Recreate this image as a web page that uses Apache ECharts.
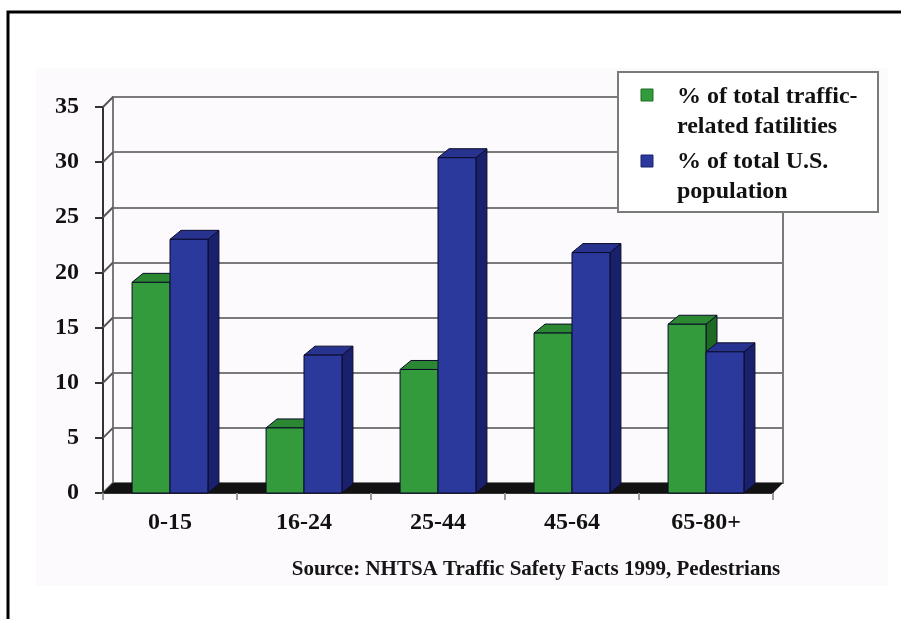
<!DOCTYPE html>
<html>
<head>
<meta charset="utf-8">
<title>Pedestrian fatalities vs population by age</title>
<script src="https://cdn.jsdelivr.net/npm/echarts@6/dist/echarts.min.js"></script>
<style>
  html, body { margin: 0; padding: 0; background: #ffffff; }
  #chart { width: 901px; height: 619px; }
</style>
</head>
<body>
<div id="chart"></div>
<script>
// Age groups on the category axis
const categories = ['0-15', '16-24', '25-44', '45-64', '65-80+'];
// Share of total traffic-related pedestrian fatalities (%)
const fatalityShare = [19.1, 5.9, 11.2, 14.5, 15.3];
// Share of total U.S. population (%)
const populationShare = [23.0, 12.5, 30.4, 21.8, 12.8];
// Value axis range and step
const yMin = 0, yMax = 35, yStep = 5;
// Legend entries (one line of text per row)
const legendLines = [
  ['% of total traffic-', 'related fatilities'],
  ['% of total U.S.', 'population']
];
const sourceNote = 'Source: NHTSA Traffic Safety Facts 1999, Pedestrians';

const FONT = "'Liberation Serif', 'Times New Roman', serif";
const DX = 10, DY = 10;           // depth offset of the back wall
const BAR_DX = 11, BAR_DY = 9;    // depth offset of the column boxes

const palette = [
  { front: '#349b3c', top: '#2c8733', side: '#1f6a23' },
  { front: '#2b399c', top: '#27338e', side: '#1a216c' }
];

const tickValues = [];
for (let v = yMin; v <= yMax; v += yStep) tickValues.push(v);

function boxRenderer(seriesIdx) {
  return function (params, api) {
    const idx = api.value(0);
    const val = api.value(1);
    const base = api.coord([idx, 0]);
    const top = api.coord([idx, val]);
    const band = api.size([1, 0])[0];
    const w = band * 0.283;
    const x0 = seriesIdx === 0 ? base[0] - w : base[0];
    const x1 = x0 + w;
    const yb = base[1], yt = top[1];
    const c = palette[seriesIdx];
    const stroke = { stroke: '#0b0b2a', lineWidth: 1 };
    return {
      type: 'group',
      children: [
        { type: 'polygon', shape: { points: [[x1, yt], [x1 + BAR_DX, yt - BAR_DY], [x1 + BAR_DX, yb - BAR_DY], [x1, yb]] },
          style: Object.assign({ fill: c.side }, stroke) },
        { type: 'polygon', shape: { points: [[x0, yt], [x0 + BAR_DX, yt - BAR_DY], [x1 + BAR_DX, yt - BAR_DY], [x1, yt]] },
          style: Object.assign({ fill: c.top }, stroke) },
        { type: 'rect', shape: { x: x0, y: yt, width: w, height: yb - yt },
          style: Object.assign({ fill: c.front }, stroke) }
      ]
    };
  };
}

const chart = echarts.init(document.getElementById('chart'), null, { renderer: 'canvas' });

const option = {
  backgroundColor: '#ffffff',
  animation: false,
  grid: [
    // front plane (axes, labels, columns)
    { left: 103, right: 128, top: 107, bottom: 126 },
    // back wall (gridlines)
    { left: 103 + DX, right: 128 - DX, top: 107 - DY, bottom: 126 + DY,
      show: true, borderColor: '#7a7a7a', borderWidth: 2, backgroundColor: 'transparent' }
  ],
  xAxis: [
    { gridIndex: 0, type: 'category', data: categories, boundaryGap: true,
      axisLine: { show: true, lineStyle: { color: '#333', width: 2 } },
      axisTick: { show: true, length: 7, lineStyle: { color: '#999', width: 2 } },
      axisLabel: { margin: 18, color: '#111', fontFamily: FONT, fontWeight: 'bold', fontSize: 24 } },
    { gridIndex: 1, type: 'category', data: categories, show: false }
  ],
  yAxis: [
    { gridIndex: 0, type: 'value', min: yMin, max: yMax, interval: yStep,
      axisLine: { show: true, lineStyle: { color: '#333', width: 2 } },
      axisTick: { show: true, length: 8, lineStyle: { color: '#333', width: 2 } },
      splitLine: { show: false },
      axisLabel: { margin: 24, color: '#111', fontFamily: FONT, fontWeight: 'bold', fontSize: 24 } },
    { gridIndex: 1, type: 'value', min: yMin, max: yMax, interval: yStep,
      axisLine: { show: false }, axisTick: { show: false }, axisLabel: { show: false },
      splitLine: { show: true, lineStyle: { color: '#7a7a7a', width: 2 } } }
  ],
  series: [
    {
      // diagonal connectors from the front axis to the back wall gridlines
      type: 'custom', xAxisIndex: 0, yAxisIndex: 0, z: 1, silent: true,
      data: tickValues.map(v => [0, v]),
      renderItem: function (params, api) {
        const p = api.coord([0, api.value(1)]);
        const x = params.coordSys.x;
        return { type: 'line', shape: { x1: x, y1: p[1], x2: x + DX, y2: p[1] - DY },
          style: { stroke: '#555', lineWidth: 2 } };
      }
    },
    {
      // dark floor strip
      type: 'custom', xAxisIndex: 0, yAxisIndex: 0, z: 2, silent: true,
      data: [[0, 0]],
      renderItem: function (params, api) {
        const cs = params.coordSys;
        const y0 = api.coord([0, 0])[1];
        const xl = cs.x, xr = cs.x + cs.width;
        return { type: 'polygon',
          shape: { points: [[xl, y0], [xr, y0], [xr + DX, y0 - DY], [xl + DX, y0 - DY]] },
          style: { fill: '#121212' } };
      }
    },
    {
      name: legendLines[0].join(' '), type: 'custom', xAxisIndex: 0, yAxisIndex: 0, z: 3,
      data: fatalityShare.map((v, i) => [i, v]),
      renderItem: boxRenderer(0)
    },
    {
      name: legendLines[1].join(' '), type: 'custom', xAxisIndex: 0, yAxisIndex: 0, z: 4,
      data: populationShare.map((v, i) => [i, v]),
      renderItem: boxRenderer(1)
    }
  ],
  graphic: [
    // faint tinted panel behind the chart
    { type: 'rect', z: -10, silent: true, shape: { x: 36, y: 68, width: 852, height: 518 },
      style: { fill: '#fdfafd' } },
    // outer frame
    { type: 'rect', z: 10, silent: true, shape: { x: 8, y: 12, width: 960, height: 700 },
      style: { fill: 'none', stroke: '#000', lineWidth: 3 } },
    // legend box
    { type: 'rect', z: 20, shape: { x: 618, y: 72, width: 260, height: 140 },
      style: { fill: '#ffffff', stroke: '#7a7a7a', lineWidth: 2 } },
    { type: 'rect', z: 21, shape: { x: 641, y: 89, width: 12, height: 12 },
      style: { fill: palette[0].front, stroke: '#1f6a23', lineWidth: 1 } },
    { type: 'text', z: 21, x: 677, y: 82,
      style: { text: legendLines[0].join('\n'), font: 'bold 24px ' + FONT, fill: '#111',
        lineHeight: 30, verticalAlign: 'top', align: 'left' } },
    { type: 'rect', z: 21, shape: { x: 641, y: 155, width: 12, height: 12 },
      style: { fill: palette[1].front, stroke: '#1a216c', lineWidth: 1 } },
    { type: 'text', z: 21, x: 677, y: 147,
      style: { text: legendLines[1].join('\n'), font: 'bold 24px ' + FONT, fill: '#111',
        lineHeight: 30, verticalAlign: 'top', align: 'left' } },
    // source note
    { type: 'text', z: 21, x: 536, y: 570,
      style: { text: sourceNote, font: 'bold 21px ' + FONT, fill: '#151515',
        align: 'center', verticalAlign: 'middle' } }
  ]
};

chart.setOption(option);
</script>
</body>
</html>
